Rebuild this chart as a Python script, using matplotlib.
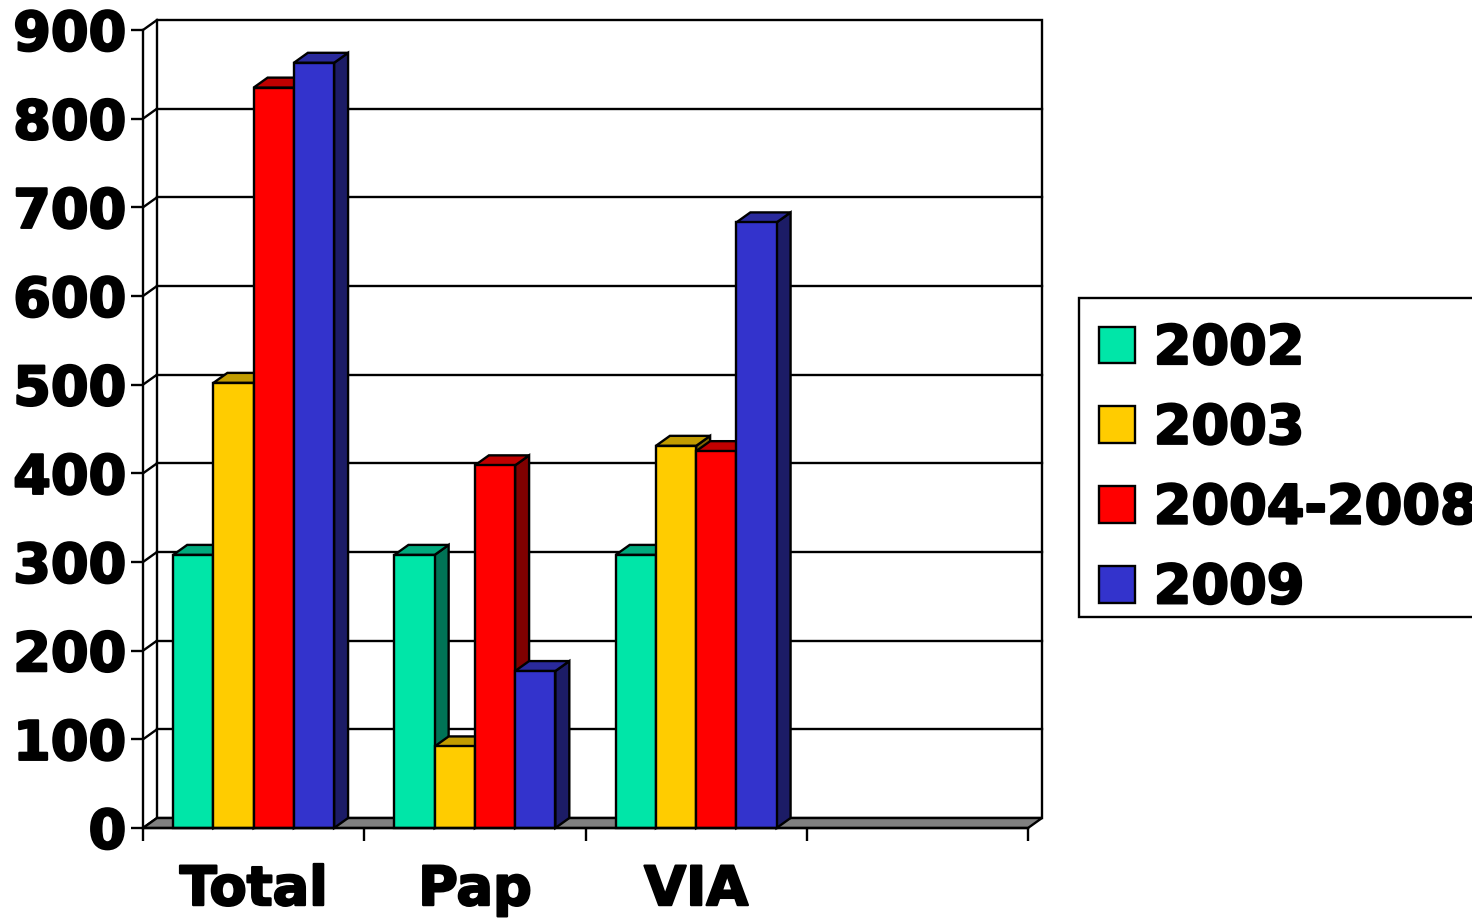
import matplotlib.pyplot as plt
import matplotlib.patheffects as pe
from matplotlib.patches import Polygon, Patch, Rectangle

categorias = ['Total', 'Pap', 'VIA']
series = ['2002', '2003', '2004-2008', '2009']
valores_2002 = [308, 308, 308]
valores_2003 = [502, 92, 431]
valores_2004_2008 = [835, 409, 425]
valores_2009 = [863, 177, 683]
yticks = list(range(0, 1000, 100))

cor_frente = ['#00E6A8', '#FFCC00', '#FF0000', '#3333CC']
cor_topo = ['#00AA7D', '#C29C00', '#C00000', '#2A2A9C']
cor_lado = ['#007356', '#806600', '#800000', '#1C1C66']

plt.rcParams['font.family'] = ['DejaVu Sans']
plt.rcParams['font.weight'] = 'bold'

W, H = 1472, 922
fig = plt.figure(figsize=(W / 100, H / 100), dpi=100)
# posicao do plano frontal em pixels
x0_px, x1_px, y0_px, y1_px = 143, 1028, 828, 30
ax = fig.add_axes([x0_px / W, (H - y0_px) / H, (x1_px - x0_px) / W, (y0_px - y1_px) / H])

n_slots = 4
ymax = 900
ax.set_xlim(0, n_slots)
ax.set_ylim(0, ymax)

# profundidade do efeito 3d (pixels -> dados)
DX = n_slots * 14 / (x1_px - x0_px)
DY = ymax * 10 / (y0_px - y1_px)
lw = 1.7

# parede do fundo
ax.add_patch(Polygon([(DX, DY), (n_slots + DX, DY), (n_slots + DX, ymax + DY), (DX, ymax + DY)],
                     closed=True, facecolor='white', edgecolor='black', lw=lw, clip_on=False, zorder=1))
for v in yticks[1:-1]:
    ax.plot([DX, n_slots + DX], [v + DY, v + DY], color='black', lw=lw, clip_on=False, zorder=1.1)
# parede lateral
for v in yticks:
    ax.plot([0, DX], [v, v + DY], color='black', lw=lw, clip_on=False, zorder=1.2)
ax.plot([0, 0], [0, ymax], color='black', lw=lw, clip_on=False, zorder=1.2)

# chao
ax.add_patch(Polygon([(0, 0), (n_slots, 0), (n_slots + DX, DY), (DX, DY)],
                     closed=True, facecolor='#808080', edgecolor='black', lw=lw, clip_on=False, zorder=1.5))

dados = [valores_2002, valores_2003, valores_2004_2008, valores_2009]
largura = 1 / (len(series) + 1.5)
z = 2
for i, cat in enumerate(categorias):
    for j, vals in enumerate(dados):
        v = vals[i]
        a = i + 0.75 * largura + j * largura
        b = a + largura
        frente = [(a, 0), (b, 0), (b, v), (a, v)]
        topo = [(a, v), (b, v), (b + DX, v + DY), (a + DX, v + DY)]
        lado = [(b, 0), (b + DX, DY), (b + DX, v + DY), (b, v)]
        for pts, c in [(lado, cor_lado[j]), (topo, cor_topo[j]), (frente, cor_frente[j])]:
            ax.add_patch(Polygon(pts, closed=True, facecolor=c, edgecolor='black', lw=lw,
                                 joinstyle='miter', clip_on=False, zorder=z))
        z += 1

for s in ['top', 'right', 'left']:
    ax.spines[s].set_visible(False)
ax.spines['bottom'].set_linewidth(lw)
ax.spines['bottom'].set_zorder(50)

negrito = [pe.withStroke(linewidth=1.6, foreground='black')]

ax.set_yticks(yticks)
ax.set_yticklabels([str(t) for t in yticks])
ax.tick_params(axis='y', length=9, width=lw, pad=3, labelsize=39)
ax.set_xticks(range(n_slots + 1))
ax.set_xticklabels([])
ax.set_xticks([i + 0.5 for i in range(len(categorias))], minor=True)
ax.set_xticklabels(categorias, minor=True)
ax.tick_params(axis='x', which='major', length=9, width=lw)
ax.tick_params(axis='x', which='minor', length=0, pad=26, labelsize=39)
for lab in ax.get_xticklabels(minor=True) + ax.get_yticklabels():
    lab.set_fontweight('bold')
    lab.set_path_effects(negrito)

# moldura da legenda
fig.patches.append(Rectangle((1079 / W, 1 - 617 / H), 500 / W, 319 / H, transform=fig.transFigure,
                             facecolor='white', edgecolor='black', lw=lw, zorder=0))
handles = [Patch(facecolor=c, edgecolor='black', lw=lw) for c in cor_frente]
leg = fig.legend(handles, series, loc='upper left', bbox_to_anchor=(1099 / W, 1 - 323 / H),
                 bbox_transform=fig.transFigure, frameon=False,
                 borderaxespad=0, borderpad=0, handlelength=0.67, handleheight=0.67,
                 handletextpad=0.34, labelspacing=0.513, prop={'size': 39, 'weight': 'bold'})
for t in leg.get_texts():
    t.set_path_effects(negrito)

fig.savefig('out.png', dpi=100)
